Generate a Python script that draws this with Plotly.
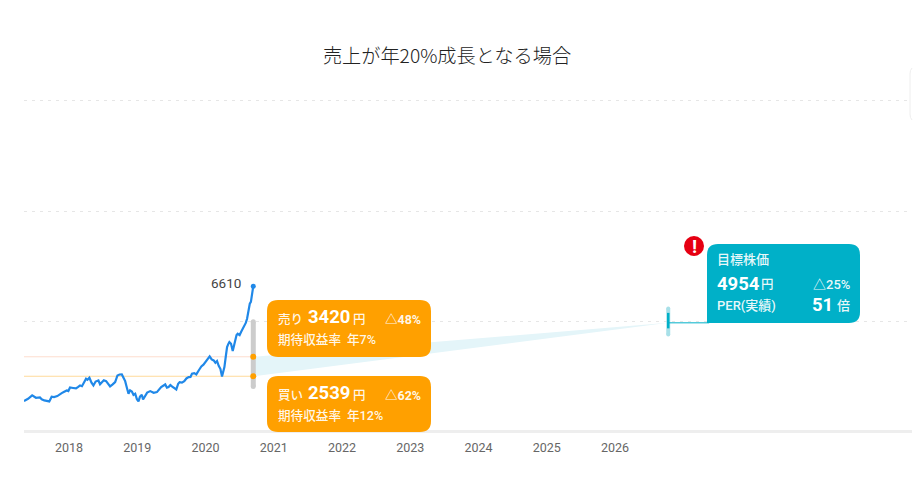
import plotly.graph_objects as go

# ---- data ----
title = "売上が年20%成長となる場合"
tick_years = [2018, 2019, 2020, 2021, 2022, 2023, 2024, 2025, 2026]
grid_values = [5000, 10000, 15000]
price_years = [2017.34, 2017.40, 2017.46, 2017.49, 2017.516, 2017.574, 2017.60, 2017.638, 2017.711, 2017.746,
               2017.78, 2017.829, 2017.86, 2017.893, 2017.93, 2017.966, 2017.99, 2018.015, 2018.06, 2018.103,
               2018.135, 2018.162, 2018.19, 2018.211, 2018.23, 2018.25, 2018.27, 2018.299, 2018.33, 2018.358,
               2018.39, 2018.431, 2018.455, 2018.48, 2018.51, 2018.544, 2018.575, 2018.602, 2018.64, 2018.676,
               2018.71, 2018.74, 2018.774, 2018.80, 2018.823, 2018.85, 2018.872, 2018.895, 2018.921, 2018.945,
               2018.97, 2018.995, 2019.018, 2019.04, 2019.067, 2019.085, 2019.102, 2019.145, 2019.19, 2019.24,
               2019.288, 2019.35, 2019.41, 2019.435, 2019.459, 2019.485, 2019.508, 2019.54, 2019.572, 2019.60,
               2019.621, 2019.655, 2019.689, 2019.72, 2019.753, 2019.78, 2019.802, 2019.835, 2019.865, 2019.90,
               2019.939, 2019.97, 2019.998, 2020.03, 2020.061, 2020.09, 2020.12, 2020.145, 2020.169, 2020.195,
               2020.218, 2020.242, 2020.277, 2020.30, 2020.316, 2020.335, 2020.35, 2020.374, 2020.385, 2020.399,
               2020.42, 2020.438, 2020.455, 2020.472, 2020.50, 2020.521, 2020.55, 2020.57, 2020.59, 2020.609,
               2020.63, 2020.649, 2020.665, 2020.683, 2020.70]
price_values = [1417, 1522, 1673, 1600, 1567, 1582, 1500, 1446, 1402, 1613,
                1600, 1643, 1720, 1778, 1840, 1898, 1870, 2034, 2010, 1988,
                2060, 2125, 2090, 2230, 2360, 2427, 2380, 2471, 2250, 2125,
                2300, 2350, 2180, 2275, 2360, 2320, 2200, 2079, 2170, 2275,
                2576, 2620, 2622, 2420, 2320, 2000, 1748, 1900, 1853, 1700,
                1748, 1500, 1402, 1620, 1703, 1490, 1567, 1800, 1868, 1790,
                1823, 2050, 2169, 2020, 2049, 2140, 2079, 2000, 1944, 2200,
                2275, 2250, 2320, 2440, 2501, 2510, 2652, 2680, 2622, 2800,
                2984, 3060, 3180, 3300, 3436, 3300, 3255, 3150, 3225, 3000,
                2875, 2530, 2952, 3500, 3858, 4000, 4085, 4008, 3850, 3676,
                3950, 4190, 4400, 4460, 4400, 4536, 4700, 4882, 4950, 5138,
                5500, 5816, 5900, 6190, 6610]
latest_price = 6610
sell_price = 3420
buy_price = 2539
target_price = 4954
now_year = 2020.70
target_year = 2026.78
gray_range = [2080, 5000]
target_range = [4430, 5600]

# ---- layout geometry ----
W, H = 917, 485
L, R, T, B = 24, 912, 95, 430
YEAR_PX = 68.25
UNIT_PER_PX = 45.2
X0 = 2018 + (L - 69) / YEAR_PX
X1 = 2018 + (R - 69) / YEAR_PX
Y0 = 110
Y1 = Y0 + (B - T) * UNIT_PER_PX
TEAL, ORANGE, BLUE = "#00b0c8", "#ffa000", "#2088e8"
FONT = "Roboto, 'Noto Sans CJK JP', sans-serif"
JP = "'Noto Sans CJK JP', sans-serif"


def px(x):
    return (x - L) / (R - L)


def py(y):
    return (B - y) / (B - T)


def card(x0, y0, x1, y1, r=11, square_bl=False):
    c = []
    c.append(f"M{px(x0 + r)},{py(y0)}")
    c.append(f"L{px(x1 - r)},{py(y0)} Q{px(x1)},{py(y0)} {px(x1)},{py(y0 + r)}")
    c.append(f"L{px(x1)},{py(y1 - r)} Q{px(x1)},{py(y1)} {px(x1 - r)},{py(y1)}")
    if square_bl:
        c.append(f"L{px(x0)},{py(y1)}")
    else:
        c.append(f"L{px(x0 + r)},{py(y1)} Q{px(x0)},{py(y1)} {px(x0)},{py(y1 - r)}")
    c.append(f"L{px(x0)},{py(y0 + r)} Q{px(x0)},{py(y0)} {px(x0 + r)},{py(y0)} Z")
    return " ".join(c)


fig = go.Figure()

# projection band
fig.add_trace(go.Scatter(x=[now_year, target_year, now_year, now_year],
                         y=[sell_price, target_price, buy_price, sell_price],
                         mode="lines", fill="toself", fillcolor="#e4f5f9",
                         line=dict(width=0), hoverinfo="skip"))
# sell / buy reference lines
fig.add_trace(go.Scatter(x=[X0, now_year], y=[sell_price, sell_price], mode="lines",
                         line=dict(color="rgba(250,170,130,0.4)", width=1), hoverinfo="skip"))
fig.add_trace(go.Scatter(x=[X0, now_year], y=[buy_price, buy_price], mode="lines",
                         line=dict(color="rgba(255,160,0,0.4)", width=1), hoverinfo="skip"))
# gray range
fig.add_trace(go.Scatter(x=[now_year, now_year], y=gray_range, mode="lines+markers",
                         line=dict(color="#cccccc", width=5), marker=dict(color="#cccccc", size=5),
                         hoverinfo="skip"))
# price line
fig.add_trace(go.Scatter(x=price_years, y=price_values, mode="lines",
                         line=dict(color=BLUE, width=2.2), hoverinfo="skip"))
fig.add_trace(go.Scatter(x=[now_year], y=[latest_price], mode="markers",
                         marker=dict(color=BLUE, size=5), hoverinfo="skip"))
# buy/sell markers
fig.add_trace(go.Scatter(x=[now_year, now_year], y=[sell_price, buy_price], mode="markers",
                         marker=dict(color=ORANGE, size=6), hoverinfo="skip"))
# target
fig.add_trace(go.Scatter(x=[target_year, target_year], y=target_range, mode="lines+markers",
                         line=dict(color="#a8e0e8", width=4), marker=dict(color="#a8e0e8", size=4),
                         hoverinfo="skip"))
fig.add_trace(go.Scatter(x=[target_year, target_year], y=[target_price - 250, target_price + 450], mode="lines",
                         line=dict(color=TEAL, width=2.5), hoverinfo="skip"))
fig.add_trace(go.Scatter(x=[target_year, target_year + 0.6], y=[target_price, target_price], mode="lines",
                         line=dict(color=TEAL, width=1), hoverinfo="skip"))

shapes = [
    dict(type="path", xref="paper", yref="paper", path=card(267, 300, 431, 357), fillcolor=ORANGE, line_width=0, layer="above"),
    dict(type="path", xref="paper", yref="paper", path=card(267, 376, 431, 432), fillcolor=ORANGE, line_width=0, layer="above"),
    dict(type="path", xref="paper", yref="paper", path=card(707, 244, 860, 323, square_bl=True), fillcolor=TEAL, line_width=0, layer="above"),
    dict(type="circle", xref="paper", yref="paper", x0=px(684), x1=px(704), y0=py(256), y1=py(236),
         fillcolor="#e60012", line_width=0, layer="above"),
    dict(type="path", xref="paper", yref="paper",
         path=f"M{px(912)},{py(68)} Q{px(910)},{py(70)} {px(910)},{py(74)} L{px(910)},{py(114)} Q{px(910)},{py(118)} {px(912)},{py(120)}",
         line=dict(color="#eeeeee", width=1), layer="below"),
]


def txt(x, y, s, size, color="#ffffff", anchor="left", bold=False, family=FONT, weight=None):
    f = dict(size=size, color=color, family=family)
    if weight:
        f["weight"] = weight
    return dict(xref="paper", yref="paper", x=px(x), y=py(y), text=f"<b>{s}</b>" if bold else s,
                showarrow=False, xanchor=anchor, yanchor="middle", borderpad=0, font=f)


SOFT = "rgba(255,255,255,0.92)"
annotations = [
    txt(242, 283, str(latest_price), 13.5, "#444444", "right"),
    # sell
    txt(277, 319, "売り", 12.5, SOFT, weight=500),
    txt(307, 317, str(sell_price), 18.5, bold=True),
    txt(352, 319, "円", 12.5, SOFT, weight=500),
    txt(422, 319, "△48%", 12.5, SOFT, "right", bold=True),
    txt(277, 339, "期待収益率", 12.6, SOFT, weight=500),
    txt(346, 339, "年7%", 12.6, SOFT, weight=500),
    # buy
    txt(277, 395, "買い", 12.5, SOFT, weight=500),
    txt(307, 393, str(buy_price), 18.5, bold=True),
    txt(352, 395, "円", 12.5, SOFT, weight=500),
    txt(422, 395, "△62%", 12.5, SOFT, "right", bold=True),
    txt(277, 415, "期待収益率", 12.6, SOFT, weight=500),
    txt(346, 415, "年12%", 12.6, SOFT, weight=500),
    # target
    txt(716, 259.5, "目標株価", 13, SOFT, weight=500),
    txt(716, 284, str(target_price), 18.5, bold=True),
    txt(760, 284, "円", 12.5, SOFT, weight=500),
    txt(851, 284, "△25%", 13, SOFT, "right", weight=500),
    txt(716, 305, "PER(実績)", 13, SOFT, weight=500),
    txt(834, 305, "51", 18.5, anchor="right", bold=True),
    txt(851, 305, "倍", 13, SOFT, "right", weight=500),
    txt(694, 246, "!", 19, anchor="center", bold=True),
]

fig.update_layout(
    width=W, height=H,
    margin=dict(l=L, r=W - R, t=T, b=H - B, pad=0),
    showlegend=False,
    plot_bgcolor="#ffffff", paper_bgcolor="#ffffff",
    title=dict(text=title, x=447 / W, xanchor="center", y=1 - 56 / H, yanchor="middle",
               font=dict(size=19.2, color="#222222", family=JP, weight=300)),
    xaxis=dict(range=[X0, X1], tickmode="array", tickvals=tick_years, ticktext=[str(t) for t in tick_years],
               showgrid=False, zeroline=False, showline=True, linecolor="#eeeeee", linewidth=3,
               ticks="outside", ticklen=4, tickcolor="rgba(0,0,0,0)",
               tickfont=dict(size=12.5, color="#666666", family=FONT)),
    yaxis=dict(range=[Y0, Y1], tickmode="array", tickvals=grid_values, showticklabels=False,
               showgrid=True, gridcolor="#e6e6e6", griddash="3px,5px", gridwidth=1, zeroline=False, showline=False),
    shapes=shapes, annotations=annotations,
)

fig.write_html("out.html", config=dict(displayModeBar=False),
               post_script="document.body.style.margin='0';document.body.style.overflow='hidden';")
